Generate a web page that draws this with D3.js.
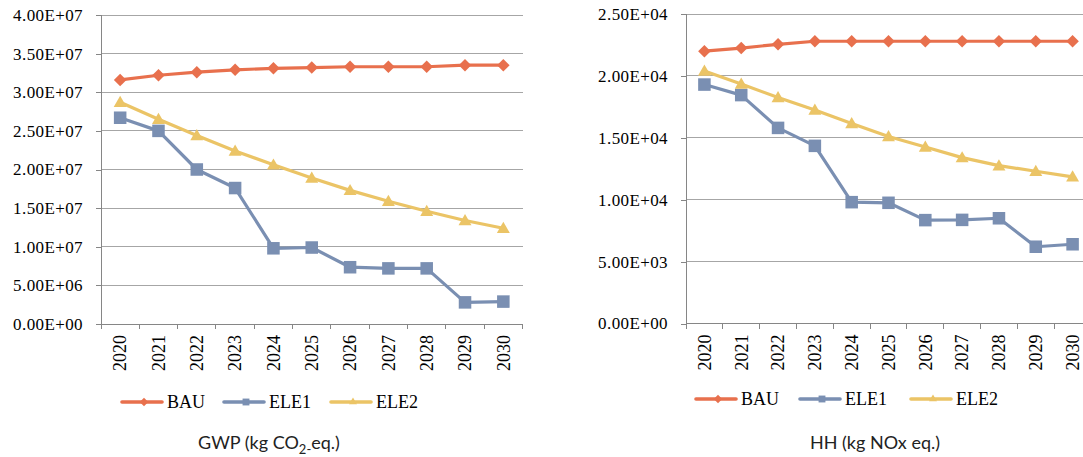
<!DOCTYPE html>
<html>
<head>
<meta charset="utf-8">
<script src="https://cdn.jsdelivr.net/npm/d3@7"></script>
<style>
  html, body { margin: 0; padding: 0; background: #fff; }
  svg { display: block; }
</style>
</head>
<body>
<svg id="chart" width="1083" height="457"></svg>
<script>
// Years on the category axis
const years = ["2020", "2021", "2022", "2023", "2024", "2025", "2026", "2027", "2028", "2029", "2030"];
const seriesNames = ["BAU", "ELE1", "ELE2"];

// Global warming potential, kg CO2-eq.
const gwpBAU  = [31.6e6, 32.2e6, 32.6e6, 32.9e6, 33.1e6, 33.2e6, 33.3e6, 33.3e6, 33.3e6, 33.5e6, 33.5e6];
const gwpELE1 = [26.7e6, 25.0e6, 20.0e6, 17.6e6, 9.8e6, 9.9e6, 7.35e6, 7.2e6, 7.2e6, 2.8e6, 2.9e6];
const gwpELE2 = [28.7e6, 26.5e6, 24.4e6, 22.4e6, 20.6e6, 18.9e6, 17.3e6, 15.9e6, 14.6e6, 13.4e6, 12.4e6];
const gwpTicks = [0, 5e6, 10e6, 15e6, 20e6, 25e6, 30e6, 35e6, 40e6];

// Human health impact, kg NOx eq.
const hhBAU  = [22000, 22250, 22550, 22800, 22800, 22800, 22800, 22800, 22800, 22800, 22800];
const hhELE1 = [19300, 18450, 15800, 14350, 9800, 9750, 8350, 8370, 8500, 6200, 6400];
const hhELE2 = [20400, 19350, 18250, 17250, 16150, 15100, 14250, 13400, 12750, 12300, 11850];
const hhTicks = [0, 5000, 10000, 15000, 20000, 25000];

const colors = { BAU: "#E8704D", ELE1: "#7A8FB2", ELE2: "#EBC466" };
const symbols = { BAU: d3.symbolDiamond2, ELE1: d3.symbolSquare2, ELE2: d3.symbolTriangle2 };
const symbolSize = { BAU: 100, ELE1: 200, ELE2: 120 };

const SERIF = "'Liberation Serif', 'Times New Roman', serif";
const SANS = "Lato, 'Noto Sans', sans-serif";

// Scientific label in the 0.00E+00 style
function sci(v) {
  if (v === 0) return "0.00E+00";
  const e = Math.floor(Math.log10(Math.abs(v)));
  const m = v / Math.pow(10, e);
  const sign = e < 0 ? "-" : "+";
  return m.toFixed(2) + "E" + sign + String(Math.abs(e)).padStart(2, "0");
}

const svg = d3.select("#chart");

function drawPanel(cfg) {
  const g = svg.append("g");
  const x = d3.scaleBand().domain(years).range([cfg.left, cfg.right]).paddingInner(0).paddingOuter(0);
  const y = d3.scaleLinear().domain([0, cfg.max]).range([cfg.bottom, cfg.top]);

  // horizontal gridlines
  g.append("g").selectAll("line").data(cfg.ticks.filter(t => t > 0)).join("line")
    .attr("x1", cfg.left).attr("x2", cfg.right)
    .attr("y1", d => y(d)).attr("y2", d => y(d))
    .attr("stroke", "#A6A6A6").attr("stroke-width", 1).attr("shape-rendering", "crispEdges");

  // y axis
  const yAxis = d3.axisLeft(y).tickValues(cfg.ticks).tickFormat(sci).tickSize(5).tickPadding(13);
  const ya = g.append("g").attr("transform", `translate(${cfg.left},0)`).call(yAxis)
    .attr("font-family", null).attr("font-size", null);
  ya.select(".domain").attr("stroke", "#868686").attr("shape-rendering", "crispEdges");
  ya.selectAll(".tick line").attr("stroke", "#868686").attr("shape-rendering", "crispEdges");
  ya.selectAll(".tick text")
    .style("font-family", SERIF).style("font-size", "17px").style("fill", "#000")
    .attr("letter-spacing", "0.4px");

  // x axis with tick marks at category boundaries
  const xa = g.append("g").attr("transform", `translate(0,${cfg.bottom})`);
  xa.append("line").attr("x1", cfg.left).attr("x2", cfg.right).attr("y1", 0).attr("y2", 0)
    .attr("stroke", "#868686").attr("shape-rendering", "crispEdges");
  const bounds = years.map(d => x(d)).concat([x(years[years.length - 1]) + x.bandwidth()]);
  xa.selectAll("line.bt").data(bounds).join("line").attr("class", "bt")
    .attr("x1", d => d).attr("x2", d => d).attr("y1", 0).attr("y2", 5)
    .attr("stroke", "#868686").attr("shape-rendering", "crispEdges");
  xa.selectAll("text").data(years).join("text")
    .style("font-family", SERIF).style("font-size", "18px").style("fill", "#000")
    .attr("text-anchor", "end")
    .attr("transform", d => `translate(${x(d) + x.bandwidth() / 2},11) rotate(-90)`)
    .attr("dy", "0.35em")
    .text(d => d);

  // series lines and markers
  const line = d3.line().x((d, i) => x(years[i]) + x.bandwidth() / 2).y(d => y(d));
  seriesNames.forEach(name => {
    const vals = cfg.data[name];
    g.append("path").datum(vals)
      .attr("d", line).attr("fill", "none")
      .attr("stroke", colors[name]).attr("stroke-width", 3.2).attr("stroke-linejoin", "round");
    g.append("g").selectAll("path").data(vals).join("path")
      .attr("d", d3.symbol().type(symbols[name]).size(symbolSize[name]))
      .attr("transform", (d, i) => `translate(${x(years[i]) + x.bandwidth() / 2},${y(d) + (name === "ELE2" ? 1 : 0)})`)
      .attr("fill", colors[name]).attr("stroke", "none");
  });

  // legend
  const lg = g.append("g");
  seriesNames.forEach((name, i) => {
    const x0 = cfg.legendX[i];
    lg.append("line").attr("x1", x0).attr("x2", x0 + 40)
      .attr("y1", cfg.legendY).attr("y2", cfg.legendY)
      .attr("stroke", colors[name]).attr("stroke-width", 3.6).attr("stroke-linecap", "round");
    lg.append("path")
      .attr("d", d3.symbol().type(symbols[name]).size(name === "ELE1" ? 60 : 45)())
      .attr("transform", `translate(${x0 + 22},${cfg.legendY})`)
      .attr("fill", colors[name]);
    lg.append("text")
      .style("font-family", SERIF).style("font-size", "18px").style("fill", "#000")
      .attr("x", x0 + 45).attr("y", cfg.legendY).attr("dy", "0.35em")
      .text(name);
  });

  // panel caption
  const t = g.append("text")
    .style("font-family", SANS).style("font-size", "18px").style("fill", "#222")
    .attr("x", cfg.titleX).attr("y", 449).attr("text-anchor", "middle");
  cfg.title(t);
}

drawPanel({
  left: 101, right: 522.5, top: 15, bottom: 324,
  max: 40e6, ticks: gwpTicks,
  data: { BAU: gwpBAU, ELE1: gwpELE1, ELE2: gwpELE2 },
  legendX: [122, 224, 331], legendY: 402,
  titleX: 269,
  title: t => {
    t.append("tspan").text("GWP (kg CO");
    t.append("tspan").attr("dy", 5).style("font-size", "13px").text("2-");
    t.append("tspan").attr("dy", -5).text("eq.)");
  }
});

drawPanel({
  left: 686, right: 1091, top: 14, bottom: 323.5,
  max: 25000, ticks: hhTicks,
  data: { BAU: hhBAU, ELE1: hhELE1, ELE2: hhELE2 },
  legendX: [696, 800, 911], legendY: 399,
  titleX: 875,
  title: t => { t.text("HH (kg NOx eq.)"); }
});
</script>
</body>
</html>
